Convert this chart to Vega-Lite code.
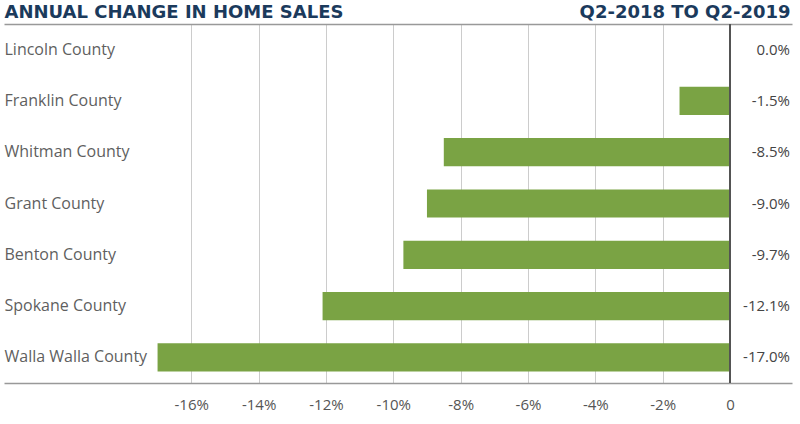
{
  "$schema": "https://vega.github.io/schema/vega-lite/v6.json",
  "width": 788,
  "height": 359,
  "autosize": "none",
  "padding": {"left": 4, "top": 24, "right": 8, "bottom": 41},
  "config": {
    "locale": {"number": {"decimal": ".", "thousands": ",", "grouping": [3], "currency": ["$", ""], "minus": "-"}},
    "view": {"stroke": null},
    "font": "Open Sans"
  },
  "data": {
    "values": [
      {"county": "Lincoln County", "change": 0.0},
      {"county": "Franklin County", "change": -0.015},
      {"county": "Whitman County", "change": -0.085},
      {"county": "Grant County", "change": -0.09},
      {"county": "Benton County", "change": -0.097},
      {"county": "Spokane County", "change": -0.121},
      {"county": "Walla Walla County", "change": -0.17}
    ]
  },
  "resolve": {"axis": {"x": "independent"}},
  "layer": [
    {
      "mark": {"type": "bar", "color": "#7aa344"},
      "encoding": {
        "y": {
          "field": "county", "type": "nominal",
          "sort": ["Lincoln County", "Franklin County", "Whitman County", "Grant County", "Benton County", "Spokane County", "Walla Walla County"],
          "scale": {"paddingInner": 0.45, "paddingOuter": 0.225},
          "axis": {
            "title": "ANNUAL CHANGE IN HOME SALES",
            "titleX": 0, "titleY": -6.5, "titleAngle": 0, "titleAlign": "left", "titleBaseline": "alphabetic",
            "titleFont": "DejaVu Sans", "titleFontSize": 18, "titleFontWeight": "bold", "titleColor": "#1b3a5c",
            "orient": "left", "domain": false, "ticks": false, "grid": false,
            "labelAlign": "left", "labelPadding": 0, "labelFontSize": 16, "labelColor": "#5f5f5f", "labelFont": "Open Sans"
          }
        },
        "x": {
          "field": "change", "type": "quantitative",
          "scale": {"domain": [-0.2156, 0.0184], "nice": false, "zero": false},
          "axis": {
            "orient": "bottom", "title": null,
            "values": [-0.16, -0.14, -0.12, -0.1, -0.08, -0.06, -0.04, -0.02, 0],
            "labelExpr": "datum.value == 0 ? '0' : round(datum.value * 100) + '%'",
            "grid": true, "gridColor": "#cccccc", "gridWidth": 1,
            "domainColor": "#999999", "domainWidth": 1.5, "ticks": false,
            "labelPadding": 14, "labelFontSize": 15, "labelColor": "#555555", "labelFont": "Open Sans"
          }
        }
      }
    },
    {
      "mark": {"type": "rule", "color": "#555555", "strokeWidth": 1.5},
      "encoding": {
        "x": {
          "datum": 0, "type": "quantitative",
          "axis": {
            "orient": "top", "title": "Q2-2018 TO Q2-2019",
            "titleX": 786, "titleY": -6.5, "titleAlign": "right", "titleBaseline": "alphabetic",
            "titleFont": "DejaVu Sans", "titleFontSize": 18, "titleFontWeight": "bold", "titleColor": "#1b3a5c",
            "labels": false, "ticks": false, "grid": false,
            "domainColor": "#999999", "domainWidth": 1.5
          }
        }
      }
    },
    {
      "mark": {"type": "text", "align": "right", "baseline": "middle", "fontSize": 15, "color": "#444444", "font": "Open Sans", "dx": -2},
      "encoding": {
        "y": {
          "field": "county", "type": "nominal",
          "sort": ["Lincoln County", "Franklin County", "Whitman County", "Grant County", "Benton County", "Spokane County", "Walla Walla County"]
        },
        "x": {"value": "width"},
        "text": {"field": "change", "type": "quantitative", "format": ".1%"}
      }
    }
  ]
}
